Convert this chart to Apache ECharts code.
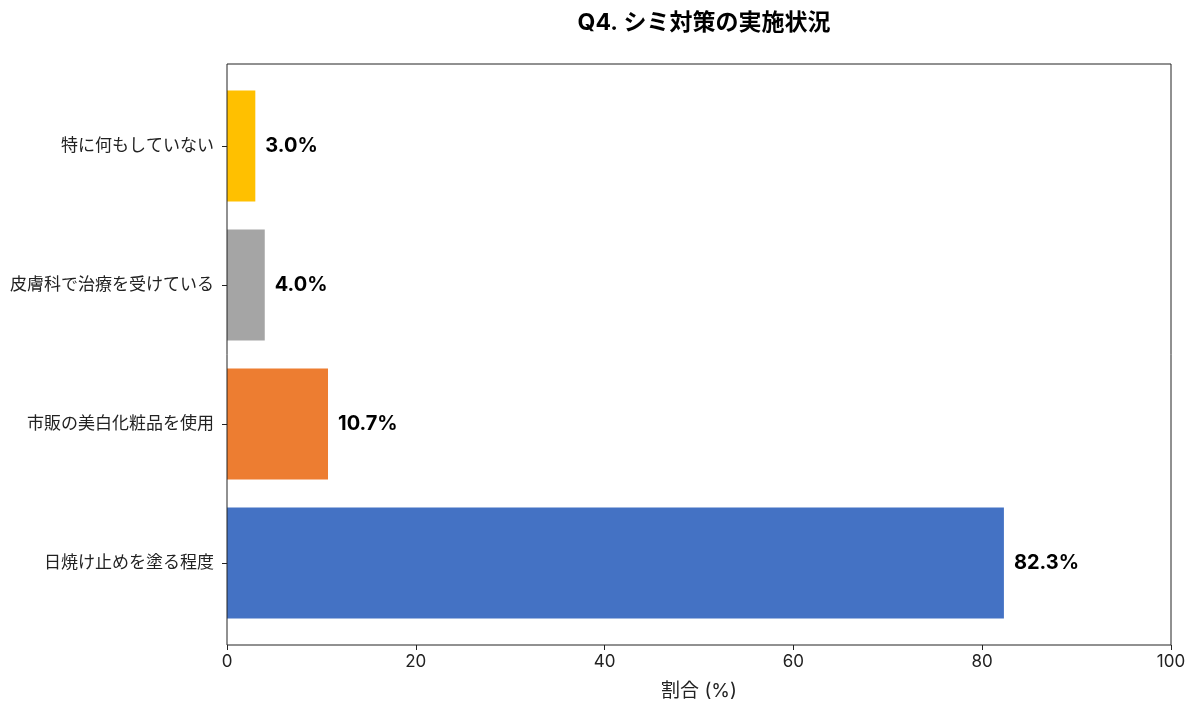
<!DOCTYPE html>
<html>
<head>
<meta charset="utf-8">
<script src="https://cdn.jsdelivr.net/npm/echarts@6/dist/echarts.min.js"></script>
<style>html,body{margin:0;padding:0;background:#fff}#c{width:1200px;height:712px}</style>
</head>
<body>
<div id="c"></div>
<script>
const categories = ['日焼け止めを塗る程度', '市販の美白化粧品を使用', '皮膚科で治療を受けている', '特に何もしていない'];
const values = [82.3, 10.7, 4.0, 3.0];
const colors = ['#4472C4', '#ED7D31', '#A5A5A5', '#FFC000'];
const xTicks = [0, 20, 40, 60, 80, 100];
const titleText = 'Q4. シミ対策の実施状況';
const xName = '割合 (%)';

const FONT = 'Inter, "Noto Sans CJK JP", sans-serif';
const chart = echarts.init(document.getElementById('c'));
chart.setOption({
  backgroundColor: '#fff',
  animation: false,
  title: {
    text: titleText, left: 699, top: 7, textAlign: 'center',
    textStyle: { fontFamily: FONT, fontSize: 23, fontWeight: 'bold', color: '#000' }
  },
  grid: [
    { left: 227, right: 29, top: 76.5, bottom: 79.5, containLabel: false },
    { left: 227, right: 29, top: 64, bottom: 67, show: true, borderColor: '#222', borderWidth: 1, backgroundColor: 'transparent', z: 3 }
  ],
  xAxis: [
    { type: 'value', gridIndex: 0, min: 0, max: 100, show: false },
    {
      type: 'value', gridIndex: 1, min: 0, max: 100, interval: 20,
      axisLine: { show: false },
      axisTick: { show: true, length: 5, lineStyle: { color: '#222' } },
      splitLine: { show: false },
      axisLabel: { fontFamily: FONT, fontSize: 17, color: '#222', margin: 8,
        formatter: v => xTicks.includes(v) ? String(v) : '' },
      name: xName, nameLocation: 'middle', nameGap: 37,
      nameTextStyle: { fontFamily: FONT, fontSize: 19, color: '#222' }
    }
  ],
  yAxis: [
    {
      type: 'category', gridIndex: 0, data: categories,
      axisLine: { show: false },
      axisTick: { show: true, length: 5, alignWithLabel: true, lineStyle: { color: '#222' } },
      axisLabel: { fontFamily: FONT, fontSize: 17, color: '#222', margin: 13 }
    },
    { type: 'value', gridIndex: 1, show: false }
  ],
  series: [{
    type: 'bar', xAxisIndex: 0, yAxisIndex: 0,
    barWidth: 111,
    data: values.map((v, i) => ({ value: v, itemStyle: { color: colors[i] } })),
    label: {
      show: true, position: 'right', distance: 10,
      formatter: p => p.value.toFixed(1) + '%',
      fontFamily: FONT, fontSize: 20, fontWeight: 'bold', color: '#000'
    }
  }]
});
</script>
</body>
</html>
